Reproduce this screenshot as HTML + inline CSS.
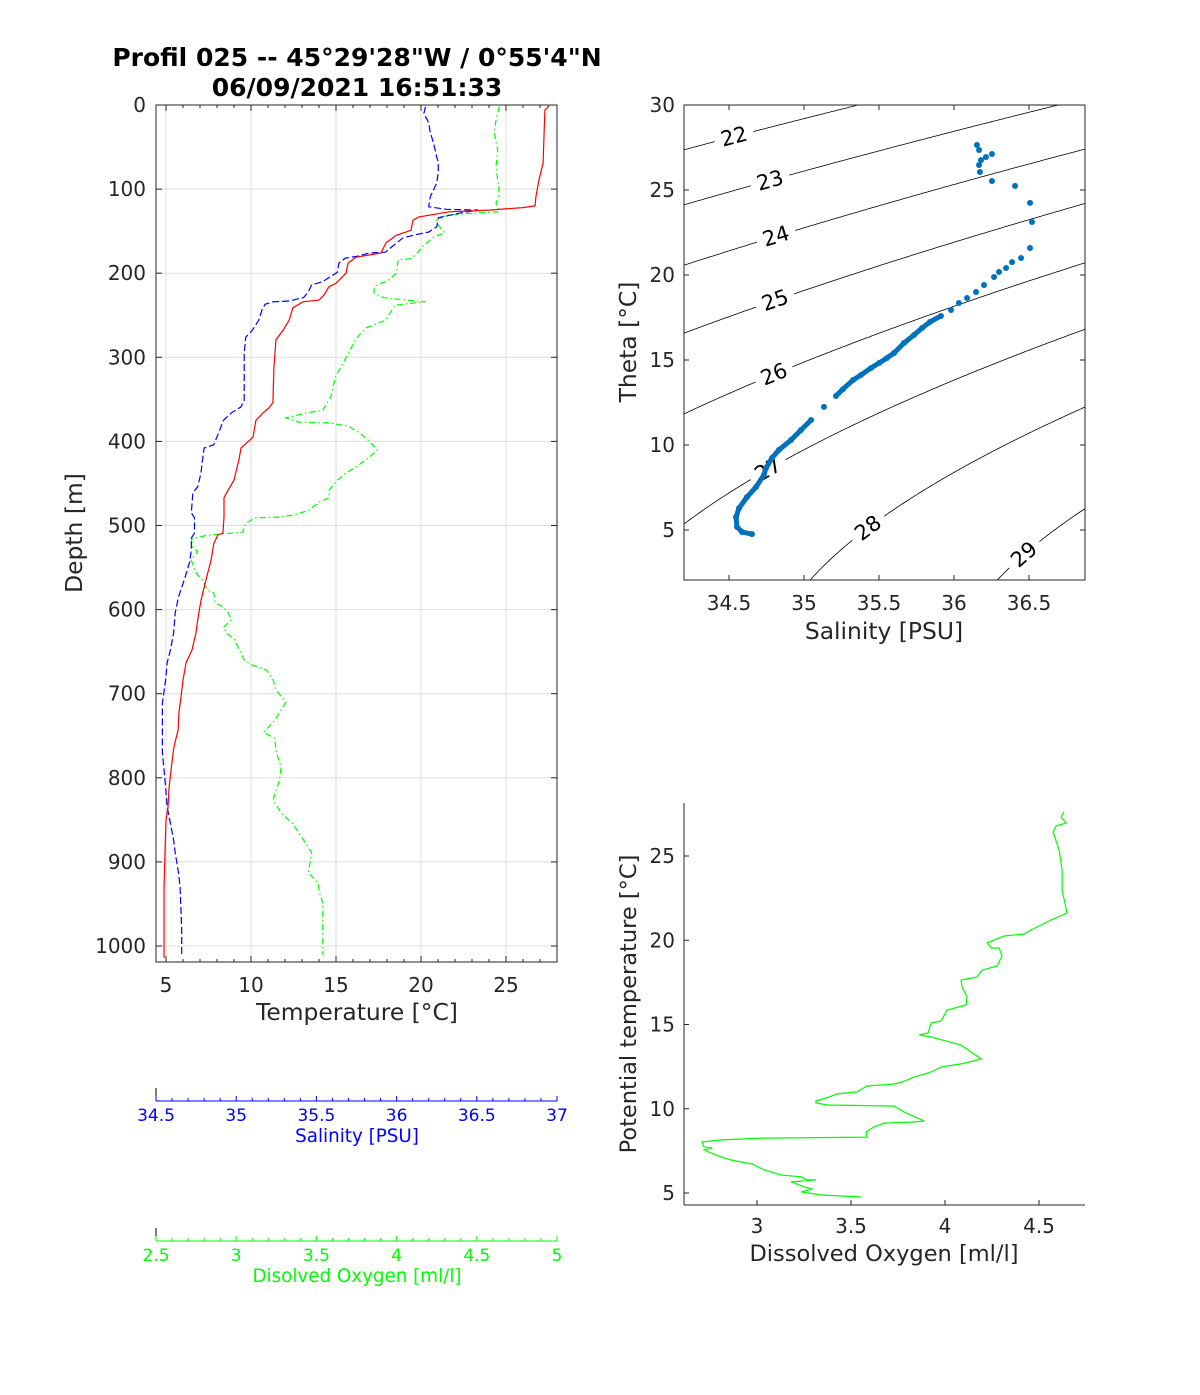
<!DOCTYPE html>
<html><head><meta charset="utf-8"><style>
html,body{margin:0;padding:0;background:#fff;}
svg{display:block;font-family:"DejaVu Sans","Liberation Sans",sans-serif;}
</style></head><body>
<svg id="fig" width="1200" height="1395" viewBox="0 0 1200 1395" xmlns="http://www.w3.org/2000/svg">
<rect width="1200" height="1395" fill="#fff"/>
<text x="357" y="66" text-anchor="middle" font-size="25" font-weight="bold" fill="#000">Profil 025 -- 45°29'28"W / 0°55'4"N</text>
<text x="357" y="96" text-anchor="middle" font-size="25" font-weight="bold" fill="#000">06/09/2021 16:51:33</text>
<g id="left"></g>
<g id="ts"></g>
<g id="ox"></g>
<g id="subax"></g>
</svg>
<script>
// ---- Profile data (depth in m) ----
const tempDepth=[1,6,33,69,89,109,120,122,125,127,133,137,149,155,164,176,181,188,200,212,216,226,232,234,241,256,268,279,312,354,360,366,375,395,408,422,446,458,467,490,509,511,521,541,565,589,610,628,648,663,684,704,723,743,763,782,811,835,850,889,930,1014];
const tempValues=[27.53,27.29,27.24,27.18,26.94,26.76,26.71,26.0,24.0,21.65,19.88,19.53,19.41,18.53,17.94,17.65,16.18,15.71,15.59,15.0,14.59,14.29,14.0,13.06,12.47,12.24,11.88,11.47,11.35,11.29,11.06,10.71,10.29,10.12,9.41,9.29,9.0,8.65,8.41,8.41,8.35,8.06,7.82,7.65,7.35,7.06,6.88,6.76,6.53,6.18,6.0,5.88,5.76,5.71,5.47,5.35,5.18,5.12,5.0,4.94,4.88,4.88];
const salDepth=[2,10,21,33,45,62,68,80,93,101,109,121,124,125,128,134,145,151,155,158,164,175,176,180,182,188,199,205,210,214,222,229,233,234,237,244,256,268,276,295,351,359,366,375,390,404,408,422,438,454,461,485,491,509,515,529,543,556,568,585,604,628,648,663,684,711,731,770,811,835,854,874,889,913,930,981,1011];
const salValues=[36.18,36.17,36.20,36.21,36.23,36.25,36.26,36.26,36.25,36.23,36.21,36.20,36.31,36.51,36.41,36.26,36.25,36.20,36.10,36.04,36.00,35.93,35.83,35.75,35.68,35.64,35.63,35.58,35.54,35.47,35.45,35.42,35.33,35.23,35.18,35.16,35.14,35.10,35.06,35.05,35.05,35.03,34.97,34.92,34.89,34.86,34.80,34.79,34.78,34.76,34.73,34.72,34.74,34.74,34.72,34.72,34.71,34.69,34.67,34.64,34.62,34.61,34.59,34.57,34.56,34.54,34.54,34.54,34.56,34.57,34.59,34.61,34.62,34.64,34.65,34.66,34.66];
const oxDepth=[2,18,33,54,74,89,105,117,127,128,131,137,143,152,157,169,178,183,184,200,208,216,224,229,232,234,238,256,265,277,295,323,347,363,366,372,377,378,382,390,398,410,419,430,438,448,458,467,472,482,487,490,491,497,508,510,512,516,526,531,541,553,559,565,577,580,592,597,604,612,621,628,636,648,660,666,672,684,696,710,723,734,746,753,770,787,803,814,826,842,854,874,889,913,925,937,949,981,1011];
const oxValues=[4.64,4.62,4.61,4.63,4.62,4.63,4.64,4.62,4.64,4.54,4.31,4.25,4.26,4.30,4.23,4.16,4.12,4.08,4.01,4.00,3.95,3.86,3.86,3.92,4.06,4.18,3.99,3.93,3.81,3.75,3.70,3.62,3.59,3.54,3.44,3.31,3.39,3.58,3.70,3.77,3.82,3.88,3.83,3.75,3.68,3.62,3.58,3.58,3.52,3.45,3.37,3.27,3.12,3.06,3.04,2.92,2.81,2.72,2.73,2.76,2.72,2.74,2.76,2.79,2.82,2.86,2.87,2.92,2.95,2.97,2.92,2.94,2.99,3.02,3.05,3.10,3.19,3.23,3.25,3.31,3.27,3.23,3.17,3.24,3.25,3.28,3.27,3.25,3.23,3.28,3.35,3.42,3.47,3.45,3.51,3.52,3.54,3.54,3.54];
// ---- T-S diagram data ----
const tsSal=[36.153,36.167,36.253,36.213,36.18,36.167,36.173,36.253,36.407,36.507,36.52,36.507,36.447,36.387,36.347,36.30,36.267,36.20,36.147,36.087,36.033,35.98,35.913,35.84,35.787,35.733,35.667,35.60,35.553,35.50,35.447,35.38,35.327,35.26,35.213,35.133,35.047,34.98,34.913,34.833,34.787,34.747,34.733,34.68,34.62,34.567,34.547,34.553,34.587,34.653];
const tsTheta=[27.65,27.35,27.12,26.94,26.76,26.47,26.06,25.53,25.24,24.24,23.12,21.59,21.0,20.76,20.41,20.18,19.88,19.41,19.0,18.65,18.35,17.94,17.59,17.24,16.88,16.47,16.0,15.41,15.12,14.82,14.53,14.12,13.82,13.29,12.88,12.24,11.47,10.88,10.29,9.71,9.24,8.65,8.24,7.53,6.94,6.29,5.76,5.18,4.88,4.76];
const sigmaLevels=[22,23,24,25,26,27,28,29];
// ---- Oxygen vs theta data ----
const otOx=[4.633,4.617,4.644,4.591,4.575,4.607,4.623,4.623,4.649,4.564,4.458,4.420,4.314,4.224,4.245,4.288,4.303,4.277,4.197,4.171,4.085,4.091,4.117,4.112,4.011,3.979,3.926,3.910,3.862,3.926,4.085,4.192,4.085,3.979,3.926,3.835,3.772,3.729,3.585,3.532,3.426,3.383,3.314,3.314,3.373,3.729,3.782,3.889,3.819,3.676,3.622,3.580,3.585,3.038,2.809,2.708,2.718,2.761,2.718,2.756,2.809,2.862,2.974,3.038,3.128,3.234,3.266,3.314,3.181,3.197,3.250,3.293,3.234,3.346,3.553];
const otTheta=[27.61,27.31,26.96,26.78,26.42,25.36,24.17,22.98,21.62,21.20,20.61,20.37,20.25,19.84,19.54,19.54,19.07,18.47,18.23,17.82,17.64,17.23,16.63,16.16,15.86,15.21,15.09,14.50,14.38,14.26,13.78,12.95,12.66,12.48,12.18,11.88,11.59,11.47,11.35,11.0,10.88,10.70,10.46,10.34,10.22,10.16,9.81,9.27,9.21,9.15,8.92,8.62,8.32,8.26,8.15,8.03,7.73,7.67,7.55,7.37,7.14,6.96,6.72,6.37,6.07,5.96,5.78,5.78,5.66,5.60,5.36,5.24,5.06,4.88,4.76];
// ---- tick labels ----
const depthTicks=[0,100,200,300,400,500,600,700,800,900,1000];
const tempTicks=[5,10,15,20,25];
const salTicks=[34.5,35,35.5,36,36.5,37];
const oxTicks=[2.5,3,3.5,4,4.5,5];
const tsSalTicks=[34.5,35,35.5,36,36.5];
const tsThetaTicks=[5,10,15,20,25,30];
const otOxTicks=[3,3.5,4,4.5];
const otThetaTicks=[5,10,15,20,25];

const NS='http://www.w3.org/2000/svg';
function mk(parent,tag,attrs,text){const e=document.createElementNS(NS,tag);for(const k in attrs)e.setAttribute(k,attrs[k]);if(text!==undefined)e.textContent=text;parent.appendChild(e);return e;}
function lin(d0,d1,r0,r1){return v=>r0+(v-d0)*(r1-r0)/(d1-d0);}
const AX='#262626';

// ===== Left panel =====
const L=document.getElementById('left');
const lx0=156,lx1=557,ly0=105,ly1=962;
const xT=lin(5,25,166,506), yD=lin(0,1000,105,946);
const xS=lin(34.5,37,156,557), xO=lin(2.5,5,156,557);
tempTicks.forEach(t=>{const g=mk(L,'line',{x1:xT(t),x2:xT(t),y1:ly0,y2:ly1,stroke:'#dedede','stroke-width':1});
});
depthTicks.forEach(d=>{const g=mk(L,'line',{x1:lx0,x2:lx1,y1:yD(d),y2:yD(d),stroke:'#dedede','stroke-width':1});
});
function pl(parent,xs,ys,attrs,name){const p=mk(parent,'polyline',Object.assign({points:xs.map((x,i)=>x.toFixed(1)+','+ys[i].toFixed(1)).join(' '),fill:'none'},attrs));
return p;}
pl(L,oxValues.map(xO),oxDepth.map(yD),{stroke:'#00ff00','stroke-width':1.2,'stroke-dasharray':'6 3 1.5 3'},'oxygen-profile-line');
pl(L,salValues.map(xS),salDepth.map(yD),{stroke:'#0000ff','stroke-width':1.2,'stroke-dasharray':'7 3'},'salinity-profile-line');
pl(L,tempValues.map(xT),tempDepth.map(yD),{stroke:'#ff0000','stroke-width':1.2},'temperature-profile-line');
let b=mk(L,'rect',{x:lx0,y:ly0,width:lx1-lx0,height:ly1-ly0,fill:'none',stroke:AX,'stroke-width':1});

for(let t=5;t<=28;t++){const major=(t%5===0);const len=major?6:3;const x=xT(t);
 mk(L,'line',{x1:x,x2:x,y1:ly0,y2:ly0+len,stroke:AX});mk(L,'line',{x1:x,x2:x,y1:ly1,y2:ly1-len,stroke:AX});}
depthTicks.forEach(d=>{const y=yD(d);mk(L,'line',{x1:lx0,x2:lx0+6,y1:y,y2:y,stroke:AX});mk(L,'line',{x1:lx1,x2:lx1-6,y1:y,y2:y,stroke:AX});
 const t=mk(L,'text',{x:146,y:y+7,'text-anchor':'end','font-size':20,fill:AX},String(d));
 });
tempTicks.forEach(v=>{const t=mk(L,'text',{x:xT(v),y:992,'text-anchor':'middle','font-size':20,fill:AX},String(v));
 });
let t1=mk(L,'text',{x:357,y:1020,'text-anchor':'middle','font-size':23.4,fill:AX},'Temperature [°C]');

let t2=mk(L,'text',{x:82,y:533,'text-anchor':'middle','font-size':23.4,fill:AX,transform:'rotate(-90 82 533)'},'Depth [m]');


// ===== Secondary axes =====
const SA=document.getElementById('subax');
function subAxis(y,scale,ticks,lo,hi,color,title,nm){
 mk(SA,'line',{x1:156,x2:156,y1:y-13,y2:y,stroke:'#000'});
 mk(SA,'line',{x1:156,x2:557,y1:y,y2:y,stroke:color,'stroke-width':1});
 for(let k=0;k<=25;k++){const v=lo+k*0.1;const x=scale(v);const major=(k%5===0);mk(SA,'line',{x1:x,x2:x,y1:y,y2:y-(major?5:3),stroke:color});}
 ticks.forEach(v=>{const t=mk(SA,'text',{x:scale(v),y:y+20,'text-anchor':'middle','font-size':17,fill:color},String(v));
  });
 const tt=mk(SA,'text',{x:357,y:y+41,'text-anchor':'middle','font-size':18.3,fill:color},title);
 }
subAxis(1101,xS,salTicks,34.5,37,'#0000ff','Salinity [PSU]','salinity');
subAxis(1241,xO,oxTicks,2.5,5,'#00ff00','Disolved Oxygen [ml/l]','oxygen');

// ===== TS panel =====
const TS=document.getElementById('ts');
const tx0=684,tx1=1085,ty0=105,ty1=580;
const sX=lin(34.5,36.5,729,1029), thY=lin(30,5,105,530);
const sMin=34.2,sMax=36.873;
function sigma0(S,T){
 const rw=999.842594+6.793952e-2*T-9.095290e-3*T*T+1.001685e-4*T**3-1.120083e-6*T**4+6.536332e-9*T**5;
 const A=8.24493e-1-4.0899e-3*T+7.6438e-5*T*T-8.2467e-7*T**3+5.3875e-9*T**4;
 const B=-5.72466e-3+1.0227e-4*T-1.6546e-6*T*T;const C=4.8314e-4;
 return rw+A*S+B*Math.pow(S,1.5)+C*S*S-1000;}
function thetaFor(sig,S){let lo=-2,hi=40;for(let i=0;i<50;i++){const m=(lo+hi)/2;if(sigma0(S,m)>sig)lo=m;else hi=m;}return (lo+hi)/2;}
const defs=mk(TS,'defs',{});const cp=mk(defs,'clipPath',{id:'tsclip'});mk(cp,'rect',{x:tx0,y:ty0,width:tx1-tx0,height:ty1-ty0});
const cg=mk(TS,'g',{'clip-path':'url(#tsclip)'});
const labelS={22:34.533,23:34.773,24:34.813,25:34.807,26:34.8,27:34.76,28:35.427,29:36.467};
sigmaLevels.forEach(sg=>{const xs=[],ys=[];for(let S=sMin;S<=sMax+0.001;S+=0.01){xs.push(sX(S));ys.push(thY(thetaFor(sg,S)));}
 pl(cg,xs,ys,{stroke:'#000','stroke-width':0.8},'sigma-contour-'+sg);});
sigmaLevels.forEach(sg=>{const S=labelS[sg];const x=sX(S),y=thY(thetaFor(sg,S));const x2=sX(S+0.01),y2=thY(thetaFor(sg,S+0.01));
 const ang=Math.atan2(y2-y,x2-x)*180/Math.PI;
 const g=mk(cg,'g',{transform:`translate(${x.toFixed(1)},${y.toFixed(1)}) rotate(${ang.toFixed(1)})`});
 mk(g,'rect',{x:-20,y:-12,width:40,height:24,fill:'#fff'});
 const t=mk(g,'text',{x:0,y:7,'text-anchor':'middle','font-size':21,fill:'#000'},String(sg));
 });
const tsg=mk(cg,'g',{});
for(let i=1;i<tsSal.length;i++){const xa=sX(tsSal[i-1]),ya=thY(tsTheta[i-1]),xb=sX(tsSal[i]),yb=thY(tsTheta[i]);
 if(Math.hypot(xb-xa,yb-ya)<16&&tsTheta[i]<17.3){const l=mk(tsg,'line',{x1:xa,y1:ya,x2:xb,y2:yb,stroke:'#0072bd','stroke-width':5,'stroke-linecap':'round'});
 }}
tsSal.forEach((s,i)=>{const c=mk(tsg,'circle',{cx:sX(s),cy:thY(tsTheta[i]),r:3,fill:'#0072bd'});
 });
b=mk(TS,'rect',{x:tx0,y:ty0,width:tx1-tx0,height:ty1-ty0,fill:'none',stroke:AX,'stroke-width':1});

tsSalTicks.forEach(v=>{const x=sX(v);mk(TS,'line',{x1:x,x2:x,y1:ty1,y2:ty1-5,stroke:AX});mk(TS,'line',{x1:x,x2:x,y1:ty0,y2:ty0+5,stroke:AX});
 const t=mk(TS,'text',{x:x,y:610,'text-anchor':'middle','font-size':20,fill:AX},String(v));
 });
tsThetaTicks.forEach(v=>{const y=thY(v);mk(TS,'line',{x1:tx0,x2:tx0+5,y1:y,y2:y,stroke:AX});mk(TS,'line',{x1:tx1,x2:tx1-5,y1:y,y2:y,stroke:AX});
 const t=mk(TS,'text',{x:675,y:y+7,'text-anchor':'end','font-size':20,fill:AX},String(v));
 });
let t3=mk(TS,'text',{x:884,y:639,'text-anchor':'middle','font-size':23.4,fill:AX},'Salinity [PSU]');

let t4=mk(TS,'text',{x:636,y:342,'text-anchor':'middle','font-size':23.4,fill:AX,transform:'rotate(-90 636 342)'},'Theta [°C]');


// ===== Oxygen-theta panel =====
const OX=document.getElementById('ox');
const ox0=684,ox1=1085,oy0=803,oy1=1205;
const oX=lin(3,4.5,757,1039), oY=lin(25,5,856,1193);
pl(OX,otOx.map(oX),otTheta.map(oY),{stroke:'#00ff00','stroke-width':1.2},'oxygen-theta-line');
mk(OX,'line',{x1:ox0,x2:ox0,y1:oy0,y2:oy1,stroke:AX});
mk(OX,'line',{x1:ox0,x2:ox1,y1:oy1,y2:oy1,stroke:AX});
otOxTicks.forEach(v=>{const x=oX(v);mk(OX,'line',{x1:x,x2:x,y1:oy1,y2:oy1-5,stroke:AX});
 const t=mk(OX,'text',{x:x,y:1233,'text-anchor':'middle','font-size':20,fill:AX},String(v));
 });
otThetaTicks.forEach(v=>{const y=oY(v);mk(OX,'line',{x1:ox0,x2:ox0+5,y1:y,y2:y,stroke:AX});
 const t=mk(OX,'text',{x:675,y:y+7,'text-anchor':'end','font-size':20,fill:AX},String(v));
 });
let t5=mk(OX,'text',{x:884,y:1261,'text-anchor':'middle','font-size':22.5,fill:AX},'Dissolved Oxygen [ml/l]');

let t6=mk(OX,'text',{x:636,y:1004,'text-anchor':'middle','font-size':22.5,fill:AX,transform:'rotate(-90 636 1004)'},'Potential temperature [°C]');

</script>
</body></html>
